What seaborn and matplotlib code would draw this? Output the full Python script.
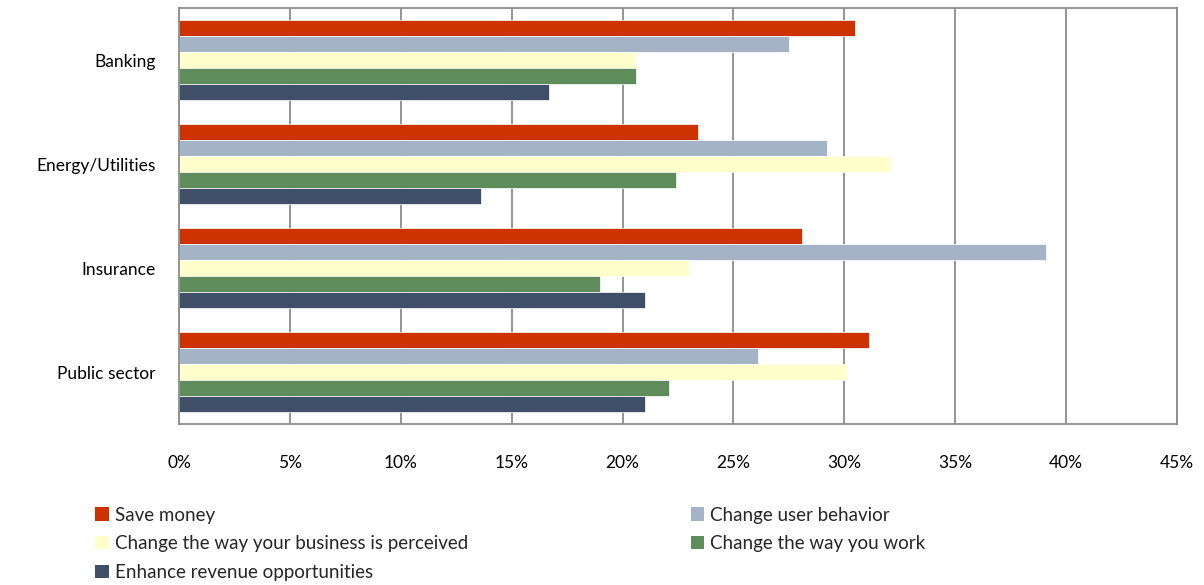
import matplotlib
matplotlib.use("Agg")
import matplotlib.pyplot as plt
from matplotlib.patches import Patch
from matplotlib.ticker import FuncFormatter, MultipleLocator
import seaborn as sns
import pandas as pd

# data (fractions)
sectors = ["Banking", "Energy/Utilities", "Insurance", "Public sector"]
series = ["Save money", "Change user behavior", "Change the way your business is perceived",
          "Change the way you work", "Enhance revenue opportunities"]
save_money = [0.305, 0.234, 0.281, 0.311]
user_behavior = [0.275, 0.292, 0.391, 0.261]
perceived = [0.206, 0.321, 0.230, 0.301]
way_you_work = [0.206, 0.224, 0.190, 0.221]
enhance_revenue = [0.167, 0.136, 0.210, 0.210]
colors = ["#CC3300", "#A5B3C7", "#FFFFCC", "#5E8C5A", "#3F4F68"]

values = [save_money, user_behavior, perceived, way_you_work, enhance_revenue]
rows = []
for name, vals in zip(series, values):
    for sec, v in zip(sectors, vals):
        rows.append({"sector": sec, "series": name, "value": v})
df = pd.DataFrame(rows)

sns.set_style("white")
plt.rcParams["font.family"] = ["Lato", "DejaVu Sans"]

fig = plt.figure(figsize=(12.04, 5.85), dpi=100)
ax = fig.add_axes([0.1487, 0.2752, 0.8289, 0.7111])

sns.barplot(data=df, y="sector", x="value", hue="series", order=sectors,
            hue_order=series, palette=colors, orient="h", width=0.77, saturation=1,
            edgecolor="white", linewidth=0.5, ax=ax, legend=False, errorbar=None)

ax.set_xlim(0, 0.45)
ax.set_ylim(3.5, -0.5)
ax.xaxis.set_major_locator(MultipleLocator(0.05))
ax.xaxis.set_major_formatter(FuncFormatter(lambda v, p: f"{round(v * 100)}%"))
ax.grid(axis="x", color="#8C8C8C", linewidth=1.3, zorder=0)
ax.set_axisbelow(True)
ax.set_xlabel("")
ax.set_ylabel("")

ax.set_yticks([-0.5, 0.5, 1.5, 2.5, 3.5], minor=True)
ax.tick_params(axis="y", which="major", length=0, pad=17, labelsize=12.5, labelcolor="#000000")
ax.tick_params(axis="y", which="minor", length=6, width=1.3, color="#8C8C8C", direction="out")
ax.tick_params(axis="x", which="major", length=6, width=1.3, color="#8C8C8C",
               direction="out", pad=16, labelsize=12.5, labelcolor="#000000")
for s in ax.spines.values():
    s.set_visible(True)
    s.set_color("#8C8C8C")
    s.set_linewidth(1.3)

order = [0, 2, 4, 1, 3]
handles = [Patch(facecolor=colors[i], edgecolor="none", label=series[i]) for i in order]
fig.legend(handles=handles, loc="upper left", bbox_to_anchor=(0.073, 0.147), ncol=2,
           frameon=False, fontsize=13.5, handlelength=0.7, handleheight=0.7,
           handletextpad=0.35, labelspacing=0.62, columnspacing=11.85, borderaxespad=0)

fig.savefig("out.png", dpi=100)
